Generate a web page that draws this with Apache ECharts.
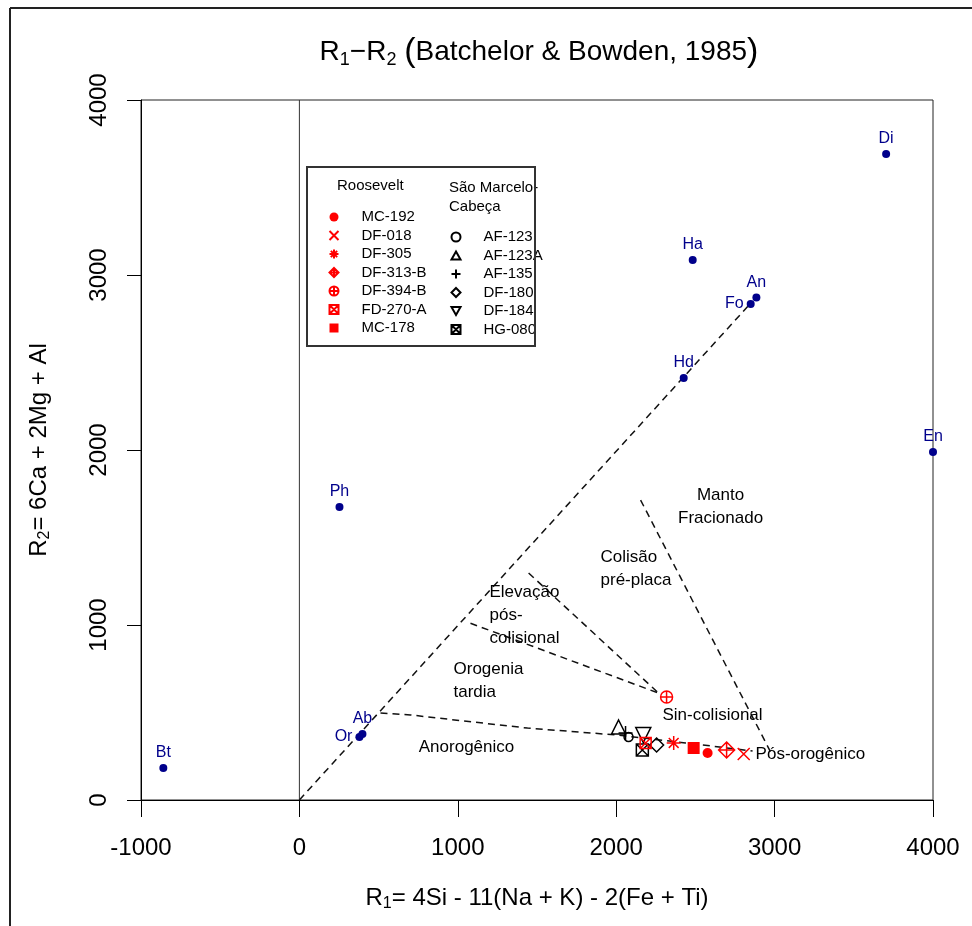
<!DOCTYPE html>
<html>
<head>
<meta charset="utf-8">
<script src="https://cdn.jsdelivr.net/npm/echarts@6/dist/echarts.min.js"></script>
<style>
html, body { margin: 0; padding: 0; background: #fff; }
#chart { width: 972px; height: 926px; }
</style>
</head>
<body>
<div id="chart"></div>
<script>
const FONT = 'Liberation Sans, Arial, sans-serif'
const RED = '#ff0000'
const NAVY = '#00008b'

// reference minerals (blue dots)
const refNames = ['Bt', 'Or', 'Ab', 'Ph', 'Hd', 'Ha', 'Fo', 'An', 'Di', 'En']
const refR1 = [-859, 379, 398, 253, 2426, 2483, 2849, 2885, 3704, 4000]
const refR2 = [183, 360, 377, 1674, 2411, 3086, 2834, 2872, 3691, 1989]
const refLabelPos = ['top', 'left', 'top', 'top', 'top', 'top', 'left', 'top', 'top', 'top']

// samples - Roosevelt
const rooseveltNames = ['MC-192', 'DF-018', 'DF-305', 'DF-313-B', 'DF-394-B', 'FD-270-A', 'MC-178']
const rooseveltR1 = [2577, 2805, 2363, 2697, 2318, 2186, 2489]
const rooseveltR2 = [269, 263, 326, 286, 589, 326, 297]

// samples - São Marcelo-Cabeça
const marceloNames = ['AF-123', 'AF-123A', 'AF-135', 'DF-180', 'DF-184', 'HG-080']
const marceloR1 = [2078, 2015, 2059, 2255, 2171, 2165]
const marceloR2 = [360, 417, 383, 314, 371, 286]

// field boundaries (dashed)
const diagR1 = [0, 2850]
const diagR2 = [0, 2840]
const anoR1 = [512, 701, 1440, 2008, 2438, 2861]
const anoR2 = [497, 486, 411, 371, 326, 280]
const lateR1 = [1080, 2267]
const lateR2 = [1010, 611]
const postR1 = [1447, 2267]
const postR2 = [1297, 611]
const mantleR1 = [2154, 2975]
const mantleR2 = [1714, 274]

// field names
const fieldNames = ['Manto\nFracionado', 'Colisão\npré-placa', 'Elevação\npós-\ncolisional', 'Orogenia\ntardia', 'Sin-colisional', 'Anorogênico', 'Pós-orogênico']
const fieldR1 = [2659, 1901, 1200, 973, 2608, 1055, 2880]
const fieldR2 = [1674, 1323, 1057, 680, 486, 303, 263]
const fieldAlign = ['center', 'left', 'left', 'left', 'center', 'center', 'left']

const SYM = {
  cross: 'path://M0,0L10,10M10,0L0,10',
  plus: 'path://M5,0L5,10M0,5L10,5',
  star: 'path://M5,0L5,10M0,5L10,5M1.5,1.5L8.5,8.5M8.5,1.5L1.5,8.5',
  diamondPlus: 'path://M5,0L10,5L5,10L0,5ZM5,0L5,10M0,5L10,5',
  circlePlus: 'path://M0,5A5,5,0,1,1,10,5A5,5,0,1,1,0,5ZM5,0L5,10M0,5L10,5',
  boxCross: 'path://M0,0L10,0L10,10L0,10ZM0,0L10,10M10,0L0,10',
  triUp: 'path://M5,0L10,8.66L0,8.66Z',
  triDown: 'path://M0,0L10,0L5,8.66Z',
  diamond: 'path://M5,0L10,5L5,10L0,5Z'
}

// marker look per sample (filled or outline)
const rooseveltStyle = [
  { symbol: 'circle', size: 10, fill: true },
  { symbol: SYM.cross, size: 12 },
  { symbol: SYM.star, size: 14 },
  { symbol: SYM.diamondPlus, size: 16 },
  { symbol: SYM.circlePlus, size: 12 },
  { symbol: SYM.boxCross, size: 11 },
  { symbol: 'rect', size: 12, fill: true }
]
const marceloStyle = [
  { symbol: 'circle', size: 9 },
  { symbol: SYM.triUp, size: 14 },
  { symbol: SYM.plus, size: 14 },
  { symbol: SYM.diamond, size: 14 },
  { symbol: SYM.triDown, size: 15 },
  { symbol: SYM.boxCross, size: 12 }
]

let zip = (a, b) => a.map((v, i) => [v, b[i]])

let sampleSeries = (names, r1, r2, styles, color) => names.map((name, i) => ({
  name: name,
  type: 'scatter',
  z: 5,
  symbol: styles[i].symbol,
  symbolSize: styles[i].size,
  itemStyle: styles[i].fill
    ? { color: color, opacity: 1 }
    : { color: 'none', borderColor: color, borderWidth: 1.5, opacity: 1 },
  data: [[r1[i], r2[i]]]
}))

let dashed = (r1, r2) => ({
  type: 'line',
  silent: true,
  symbol: 'none',
  z: 2,
  lineStyle: { color: '#111', width: 1.5, type: [7, 5] },
  data: zip(r1, r2)
})

let legendBase = {
  orient: 'vertical',
  selectedMode: false,
  padding: 0,
  itemWidth: 9,
  itemHeight: 9,
  itemGap: 3.5,
  textStyle: { fontFamily: FONT, fontSize: 15, color: '#000', padding: [0, 0, 0, 18] }
}

let nameRich = {
  n: { fontSize: 24, lineHeight: 28, color: '#000', fontFamily: FONT },
  s: { fontSize: 16, lineHeight: 12, verticalAlign: 'bottom', color: '#000', fontFamily: FONT }
}

let chart = echarts.init(document.getElementById('chart'))

chart.setOption({
  animation: false,
  backgroundColor: '#fff',
  textStyle: { fontFamily: FONT },
  grid: {
    left: 141, right: 39, top: 100, bottom: 126,
    show: true, borderColor: '#222', borderWidth: 1
  },
  xAxis: {
    type: 'value', min: -1000, max: 4000, interval: 1000,
    axisLine: { show: true, onZero: false, lineStyle: { color: '#000' } },
    axisTick: { show: true, length: 17, lineStyle: { color: '#000' } },
    splitLine: { show: false },
    axisLabel: { fontSize: 24, color: '#000', margin: 36, fontFamily: FONT, formatter: v => String(v) },
    name: '{n|R}{s|1}{n|= 4Si - 11(Na + K) - 2(Fe + Ti)}',
    nameLocation: 'middle',
    nameGap: 84,
    nameTextStyle: { rich: nameRich }
  },
  yAxis: {
    type: 'value', min: 0, max: 4000, interval: 1000,
    axisLine: { show: true, onZero: false, lineStyle: { color: '#000' } },
    axisTick: { show: true, length: 14, lineStyle: { color: '#000' } },
    splitLine: { show: false },
    axisLabel: { fontSize: 24, color: '#000', margin: 30, rotate: 90, fontFamily: FONT, formatter: v => String(v) },
    name: '{n|R}{s|2}{n|= 6Ca + 2Mg + Al}',
    nameLocation: 'middle',
    nameGap: 88,
    nameTextStyle: { rich: nameRich }
  },
  legend: [
    Object.assign({}, legendBase, { left: 327, top: 209.5, data: rooseveltNames }),
    Object.assign({}, legendBase, { left: 449, top: 229.5, data: marceloNames })
  ],
  graphic: [
    // outer frame
    { type: 'line', shape: { x1: 10, y1: 8, x2: 10, y2: 926 }, style: { stroke: '#222', lineWidth: 2 } },
    { type: 'line', shape: { x1: 10, y1: 8, x2: 972, y2: 8 }, style: { stroke: '#222', lineWidth: 2 } },
    // title
    {
      type: 'text', x: 539, y: 35,
      style: {
        text: '{n|R}{s|1}{n|−R}{s|2}{n| }{p|(}{n|Batchelor & Bowden, 1985}{p|)}',
        align: 'center',
        rich: {
          n: { fontSize: 28, lineHeight: 34, fill: '#000', fontFamily: FONT },
          s: { fontSize: 18, lineHeight: 14, verticalAlign: 'bottom', fill: '#000', fontFamily: FONT },
          p: { fontSize: 34, lineHeight: 34, fill: '#000', fontFamily: FONT }
        }
      }
    },
    // legend box and headers
    { type: 'rect', shape: { x: 307, y: 167, width: 228, height: 179 }, style: { fill: 'none', stroke: '#333', lineWidth: 2 }, z: 10 },
    { type: 'text', x: 337, y: 178, style: { text: 'Roosevelt', fontSize: 15, fontFamily: FONT, fill: '#000' } },
    { type: 'text', x: 449, y: 178, style: { text: 'São Marcelo-\nCabeça', fontSize: 15, lineHeight: 19, fontFamily: FONT, fill: '#000' } }
  ],
  series: [
    {
      type: 'line', silent: true, symbol: 'none', z: 1,
      lineStyle: { color: '#333', width: 1 },
      data: [[0, 0], [0, 4000]]
    },
    dashed(diagR1, diagR2),
    dashed(anoR1, anoR2),
    dashed(lateR1, lateR2),
    dashed(postR1, postR2),
    dashed(mantleR1, mantleR2),
    {
      type: 'scatter', silent: true, symbolSize: 0, z: 3,
      itemStyle: { opacity: 1 },
      label: {
        show: true, position: 'inside', color: '#000', fontSize: 17, lineHeight: 23, fontFamily: FONT,
        opacity: 1,
        formatter: p => p.data.name
      },
      data: fieldNames.map((n, i) => ({ name: n, value: [fieldR1[i], fieldR2[i]], label: { align: fieldAlign[i] } }))
    },
    {
      type: 'scatter', silent: true, symbolSize: 8, z: 4,
      itemStyle: { color: NAVY, opacity: 1 },
      label: {
        show: true, color: NAVY, fontSize: 16, distance: 3, fontFamily: FONT, opacity: 1,
        formatter: p => p.data.name
      },
      data: refNames.map((n, i) => ({ name: n, value: [refR1[i], refR2[i]], label: { position: refLabelPos[i] } }))
    }
  ]
    .concat(sampleSeries(marceloNames, marceloR1, marceloR2, marceloStyle, '#000'))
    .concat(sampleSeries(rooseveltNames, rooseveltR1, rooseveltR2, rooseveltStyle, RED))
})
</script>
</body>
</html>
